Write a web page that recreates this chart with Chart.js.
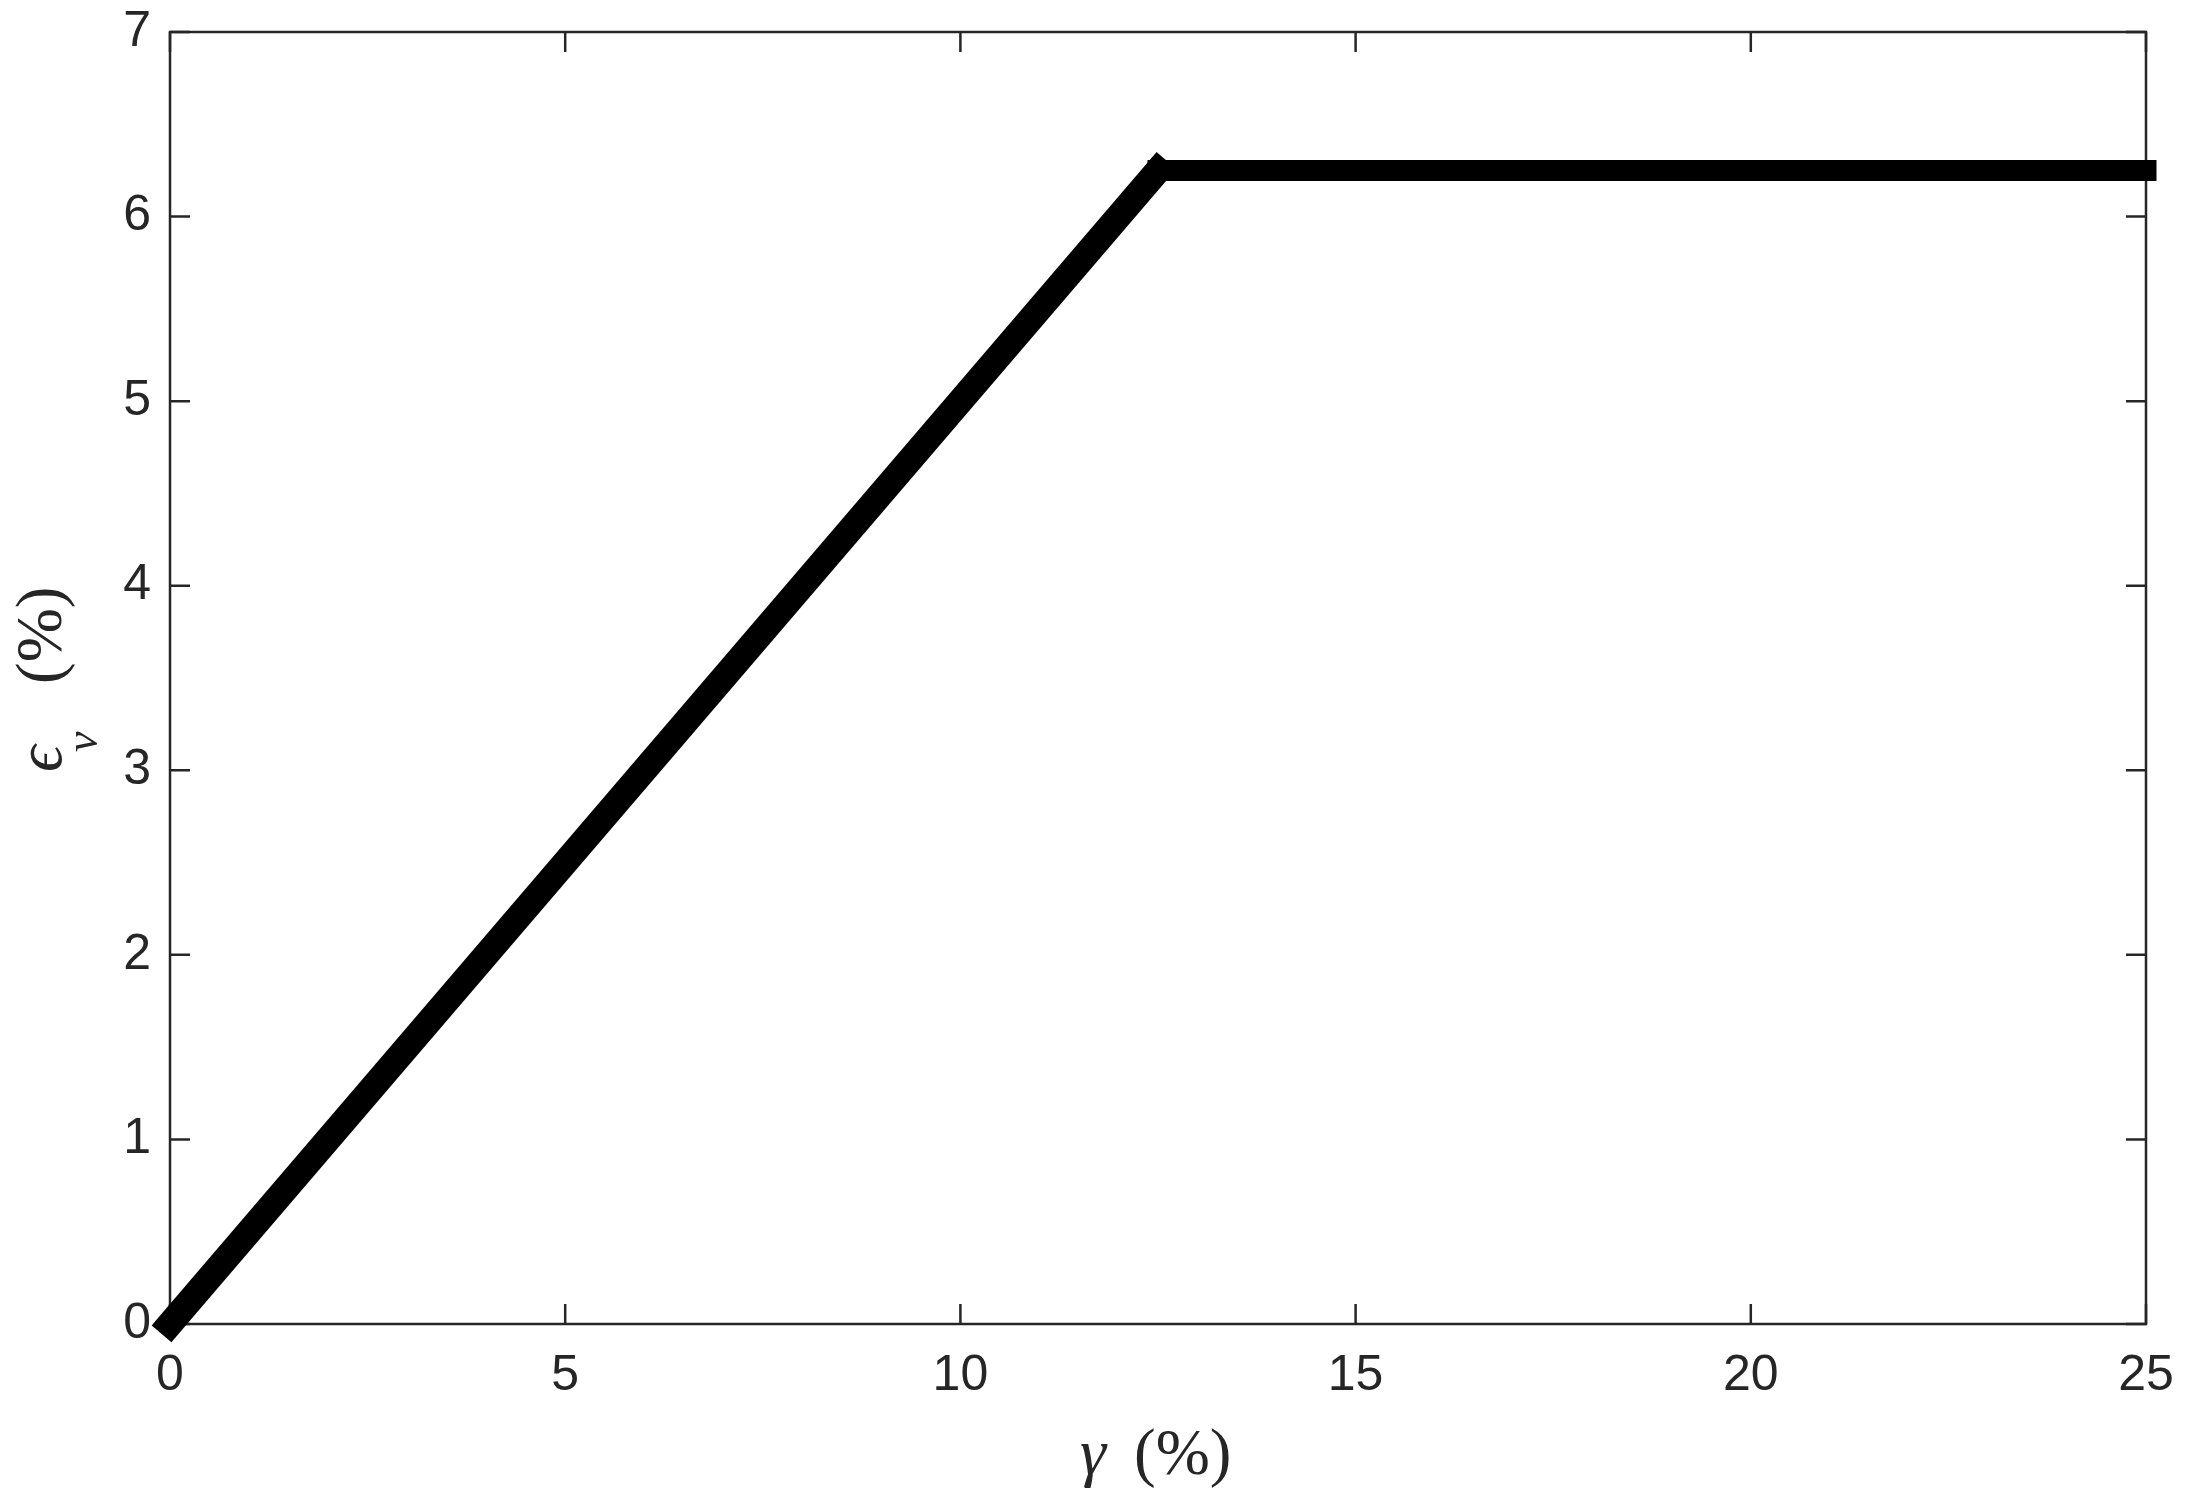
<!DOCTYPE html>
<html>
<head>
<meta charset="utf-8">
<script src="https://cdn.jsdelivr.net/npm/chart.js@4.4.1/dist/chart.umd.min.js"></script>
<style>
  html, body { margin: 0; padding: 0; background: #fff; }
  canvas { display: block; }
</style>
</head>
<body>
<canvas id="strainChart" width="2186" height="1502"></canvas>
<script>
// Shear strain (gamma, %) vs volumetric strain (eps_v, %)
const gammaRise = [0, 12.5];
const epsRise = [0, 6.25];
const gammaFlat = [12.5, 25];
const epsFlat = [6.25, 6.25];

const xTicks = [0, 5, 10, 15, 20, 25];
const yTicks = [0, 1, 2, 3, 4, 5, 6, 7];

const axisColor = '#262626';
const tickFont = { family: '"Liberation Sans", Arial, sans-serif', size: 50 };
const serif = '"Liberation Serif", "Times New Roman", serif';

function toPoints(xs, ys) {
    return xs.map((x, i) => ({ x: x, y: ys[i] }));
}

// MATLAB-like box with inward ticks on all four sides
const boxPlugin = {
    id: 'boxPlugin',
    beforeDatasetsDraw(chart) {
        const { ctx, chartArea: a, scales } = chart;
        const tl = 20;
        ctx.save();
        ctx.strokeStyle = axisColor;
        ctx.lineWidth = 2.5;
        ctx.strokeRect(a.left, a.top, a.right - a.left, a.bottom - a.top);
        ctx.beginPath();
        xTicks.forEach(v => {
            const px = scales.x.getPixelForValue(v);
            ctx.moveTo(px, a.bottom); ctx.lineTo(px, a.bottom - tl);
            ctx.moveTo(px, a.top); ctx.lineTo(px, a.top + tl);
        });
        yTicks.forEach(v => {
            const py = scales.y.getPixelForValue(v);
            ctx.moveTo(a.left, py); ctx.lineTo(a.left + tl, py);
            ctx.moveTo(a.right, py); ctx.lineTo(a.right - tl, py);
        });
        ctx.stroke();
        ctx.restore();
    },
    afterDraw(chart) {
        const ctx = chart.ctx;
        ctx.save();
        ctx.fillStyle = axisColor;
        ctx.textBaseline = 'alphabetic';
        ctx.textAlign = 'left';

        // x axis title: gamma (%)
        ctx.font = 'italic 66px ' + serif;
        ctx.fillText('γ', 1080, 1474);
        ctx.font = '65px ' + serif;
        ctx.fillText('(%)', 1134, 1474);

        // y axis title: eps_v (%), rotated
        ctx.translate(61, 772);
        ctx.rotate(-Math.PI / 2);
        ctx.font = 'italic 66px ' + serif;
        ctx.fillText('ϵ', 0, 0);
        ctx.font = 'italic 46px ' + serif;
        ctx.fillText('ν', 20, 36);
        ctx.font = '65px ' + serif;
        ctx.fillText('(%)', 88, 0);
        ctx.restore();
    }
};

const ctx = document.getElementById('strainChart').getContext('2d');

const config = {
    type: 'line',
    data: {
        datasets: [{
            data: toPoints(gammaRise, epsRise),
            borderColor: '#000000',
            borderWidth: 26,
            borderCapStyle: 'square',
            pointRadius: 0,
            fill: false,
            clip: false
        }, {
            data: toPoints(gammaFlat, epsFlat),
            borderColor: '#000000',
            borderWidth: 21,
            borderCapStyle: 'square',
            pointRadius: 0,
            fill: false,
            clip: false
        }]
    },
    options: {
        responsive: false,
        animation: false,
        devicePixelRatio: 1,
        layout: {
            padding: { left: 0, right: 40, top: 32, bottom: 0 }
        },
        plugins: {
            legend: { display: false },
            tooltip: { enabled: false }
        },
        scales: {
            x: {
                type: 'linear',
                min: 0,
                max: 25,
                border: { display: false },
                grid: { display: false, drawTicks: true, tickLength: 22 },
                afterBuildTicks: scale => {
                    scale.ticks = xTicks.map(v => ({ value: v }));
                },
                afterFit: scale => { scale.height = 178; },
                ticks: {
                    color: axisColor,
                    font: tickFont,
                    padding: 0,
                    maxRotation: 0,
                    autoSkip: false
                }
            },
            y: {
                type: 'linear',
                min: 0,
                max: 7,
                border: { display: false },
                grid: { display: false, drawTicks: true, tickLength: 19 },
                afterBuildTicks: scale => {
                    scale.ticks = yTicks.map(v => ({ value: v }));
                },
                afterFit: scale => { scale.width = 170; },
                ticks: {
                    color: axisColor,
                    font: tickFont,
                    padding: 0,
                    autoSkip: false
                }
            }
        }
    },
    plugins: [boxPlugin]
};

new Chart(ctx, config);
</script>
</body>
</html>
